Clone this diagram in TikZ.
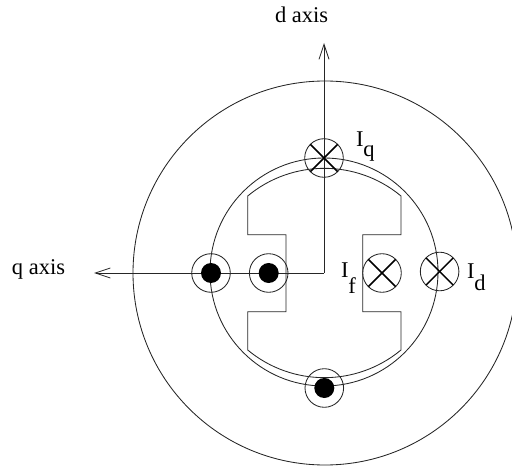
\documentclass[tikz,border=0pt]{standalone}
\usepackage{fontspec}
\setmainfont{Liberation Serif}
\usetikzlibrary{arrows.meta}
\tikzset{
  line/.style={line width=0.85pt,black!85},
  coil/.style={circle,draw,line width=0.85pt,black!85,minimum size=38.6pt,inner sep=0pt,outer sep=0pt},
  dot/.style={circle,fill=black,minimum size=20pt,inner sep=0pt,outer sep=0pt},
  cross/.style={line width=1.5pt,black},
  axis/.style={line,-{Straight Barb[length=15pt,width=10pt,line width=0.85pt]}},
  lbl/.style={inner sep=0pt,outer sep=0pt,anchor=base west,font=\fontsize{22.5}{22.5}\selectfont}
}
\begin{document}
\begin{tikzpicture}[x=1pt,y=-1pt]
\useasboundingbox (0,0) rectangle (512,468);
\clip (0,0) rectangle (512,468);
\draw[line] (325,273) circle[radius=192];
\draw[line] (324,272) circle[radius=114];
\coordinate (o) at (324,273);
\coordinate (dtip) at (324,43);
\coordinate (qtip) at (94,273);
% rotor
\draw[line] (247.7,196) arc[start angle=-129.7,end angle=-50.3,radius=120]
  -- (401,234.7) -- (362.7,234.7) -- (362.7,311.7) -- (401,311.7) -- (401,350)
  arc[start angle=50.3,end angle=129.7,radius=120]
  -- (247.7,311.7) -- (286,311.7) -- (286,234.7) -- (247.7,234.7) -- cycle;
% axes
\draw[axis] (o) -- (dtip);
\draw[axis] (o) -- (qtip);
% coils
\node[coil] (iq) at (324,158) {};
\node[coil] (qa) at (211,273) {};
\node[coil] (qb) at (268.7,273) {};
\node[coil] (if) at (382,273) {};
\node[coil] (id) at (439.6,271.5) {};
\node[coil] (bt) at (324.3,388) {};
\foreach \n in {qa,qb,bt} \node[dot] at (\n) {};
\foreach \n in {iq,if,id} {
  \draw[cross] (\n.45) -- (\n.225);
  \draw[cross] (\n.135) -- (\n.315);
}
% labels
\node[lbl] (dl) at (275,23) {d axis};
\node[lbl] (ql) at (12,275) {q axis};
\node[lbl] (iql) at (356,147) {I\raisebox{-10pt}{q}};
\node[lbl] (ifl) at (341,277) {I\raisebox{-16pt}{f}};
\node[lbl] (idl) at (467,278) {I\raisebox{-13pt}{d}};
\end{tikzpicture}
\end{document}
